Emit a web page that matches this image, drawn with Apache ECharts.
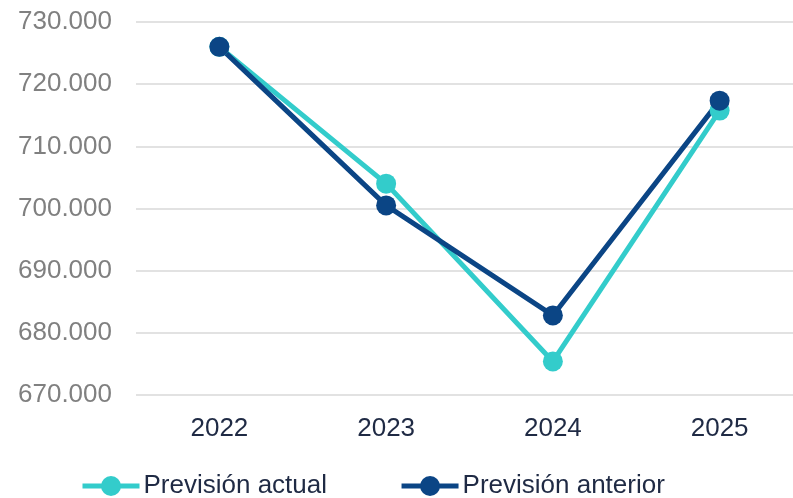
<!DOCTYPE html>
<html>
<head>
<meta charset="utf-8">
<script src="https://cdn.jsdelivr.net/npm/echarts@6/dist/echarts.min.js"></script>
<style>
  html, body { margin: 0; padding: 0; background: #fff; }
  #chart { width: 793px; height: 498px; }
</style>
</head>
<body>
<div id="chart"></div>
<script>
// Years on the horizontal axis
const years = ['2022', '2023', '2024', '2025'];
// Forecast series
const previsionActual = [726000, 704000, 675400, 715750];
const previsionAnterior = [726000, 700500, 682800, 717350];
// Vertical scale
const yMin = 670000;
const yMax = 730000;
const yStep = 10000;

const fontFamily = '"Liberation Sans", Arial, sans-serif';
const colActual = '#33CCCB';
const colAnterior = '#0B4585';

// Spanish-style thousands separator: 730000 -> 730.000
function fmtThousands(v) {
  return String(Math.round(v)).replace(/\B(?=(\d{3})+(?!\d))/g, '.');
}

const chart = echarts.init(document.getElementById('chart'), null, { renderer: 'canvas' });

function lineSeries(name, data, color) {
  return {
    name: name,
    type: 'line',
    data: data,
    symbol: 'circle',
    symbolSize: 20,
    showAllSymbol: true,
    lineStyle: { color: color, width: 5 },
    itemStyle: { color: color },
    emphasis: { disabled: true },
    animation: false
  };
}

chart.setOption({
  backgroundColor: '#ffffff',
  animation: false,
  // plot area runs slightly past the right edge of the canvas
  grid: {
    left: 136, width: 667, top: 22, bottom: 103,
    containLabel: false,
    outerBoundsMode: 'none'
  },
  legend: {
    left: 75,
    top: 468,
    itemWidth: 57,
    itemHeight: 25,
    itemGap: 72,
    lineStyle: { width: 5 },
    textStyle: { fontFamily: fontFamily, fontSize: 26, color: '#1F2A44', padding: [0, 0, 0, -1] },
    data: ['Previsión actual', 'Previsión anterior']
  },
  xAxis: {
    type: 'category',
    data: years,
    boundaryGap: true,
    axisLine: { show: false },
    axisTick: { show: false },
    axisLabel: { fontFamily: fontFamily, fontSize: 26, color: '#1F2A44', margin: 21 }
  },
  yAxis: {
    type: 'value',
    min: yMin,
    max: yMax,
    interval: yStep,
    axisLine: { show: false },
    axisTick: { show: false },
    splitLine: { lineStyle: { color: '#D9D9D9', width: 1.5 } },
    axisLabel: {
      fontFamily: fontFamily, fontSize: 26, color: '#808080', margin: 24,
      formatter: fmtThousands
    }
  },
  series: [
    lineSeries('Previsión actual', previsionActual, colActual),
    lineSeries('Previsión anterior', previsionAnterior, colAnterior)
  ]
});
</script>
</body>
</html>
